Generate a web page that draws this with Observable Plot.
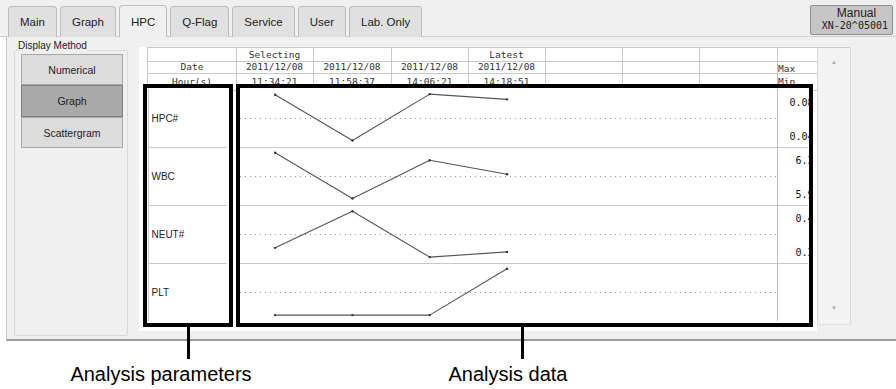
<!DOCTYPE html>
<html><head><meta charset="utf-8">
<script src="https://cdn.jsdelivr.net/npm/d3@7"></script>
<script src="https://cdn.jsdelivr.net/npm/@observablehq/plot@0.6"></script>
<style>
html,body{margin:0;padding:0;background:#fff;}
#root{position:relative;width:896px;height:389px;overflow:hidden;font-family:"Liberation Sans",Arial,sans-serif;color:#222;}
.abs{position:absolute;box-sizing:border-box;}
.mono{font-family:"DejaVu Sans Mono",monospace;}
.cell{position:absolute;box-sizing:border-box;border-right:1px solid #c8c8c8;border-bottom:1px solid #c8c8c8;font-family:"DejaVu Sans Mono",monospace;font-size:9.5px;color:#333;text-align:center;white-space:nowrap;overflow:hidden;}
</style></head>
<body><div id="root"></div>
<script>
// ---------- data ----------
const tabs = ["Main", "Graph", "HPC", "Q-Flag", "Service", "User", "Lab. Only"];
const activeTab = "HPC";
const methods = ["Numerical", "Graph", "Scattergram"];
const activeMethod = "Graph";
const slotStatus = ["Selecting", "", "", "Latest", "", "", ""];
const slotDates = ["2011/12/08", "2011/12/08", "2011/12/08", "2011/12/08", "", "", ""];
const slotHours = ["11:34:21", "11:58:37", "14:06:21", "14:18:51", "", "", ""];
const params = ["HPC#", "WBC", "NEUT#", "PLT"];
// position of each result inside the row's display range (0 = row bottom, 100 = row top)
const hpcValues = [91, 12, 92, 83];
const wbcValues = [91, 12, 78, 54];
const neutValues = [27, 90, 11, 20];
const pltValues = [11, 11, 11, 91];
const maxLabels = ["0.08", "6.3", "0.4", ""];
const minLabels = ["0.04", "5.9", "0.3", ""];
const callouts = ["Analysis parameters", "Analysis data"];

// ---------- layout helpers ----------
const root = document.getElementById("root");
function box(css, html) {
  const d = document.createElement("div");
  d.className = "abs";
  d.style.cssText = css;
  if (html !== undefined) d.innerHTML = html;
  root.appendChild(d);
  return d;
}

// backgrounds
box("left:0;top:0;width:896px;height:37px;background:#f0f0f0;");
box("left:0;top:36px;width:896px;height:1px;background:#cfcfcf;");
box("left:6px;top:37px;width:890px;height:304px;background:#f0f0f0;border-left:1px solid #c8c8c8;border-bottom:2px solid #9a9a9a;");

// tabs
const tabBar = box("left:8px;top:5px;height:32px;display:flex;align-items:flex-end;gap:3px;");
tabs.forEach(t => {
  const on = t === activeTab;
  const d = document.createElement("div");
  d.textContent = t;
  d.style.cssText = `box-sizing:border-box;height:${on ? 32 : 31}px;padding:0 11px;display:flex;align-items:center;font-size:11.5px;color:#222;` +
    `border:1px solid #bcbcbc;border-bottom:none;border-radius:4px 4px 0 0;background:${on ? "#f0f0f0" : "#e0e0e0"};`;
  tabBar.appendChild(d);
});

// Manual button
box("left:810px;top:5px;width:83px;height:30px;background:#c6c6c6;border:1px solid #8e8e8e;border-radius:2px;text-align:right;padding:1px 4px 0 0;line-height:12px;",
  `<div style="font-size:12px;text-align:center;padding-left:14px;">Manual</div><div class="mono" style="font-size:10px;margin-top:1px;">XN-20^05001</div>`);

// Display Method group
box("left:14px;top:50px;width:114px;height:286px;border:1px solid #dadada;border-radius:2px;");
box("left:17px;top:40px;font-size:10px;background:#f0f0f0;padding:0 1px;", "Display Method");
const methodTops = [54, 85, 117];
const methodHeights = [31, 32, 31];
methods.forEach((m, i) => {
  const on = m === activeMethod;
  box(`left:21px;top:${methodTops[i]}px;width:102px;height:${methodHeights[i]}px;display:flex;align-items:center;justify-content:center;font-size:10.5px;` +
    `background:${on ? "#a9a9a9" : "#dcdcdc"};border:1px solid ${on ? "#7f7f7f" : "#a8a8a8"};`, m);
});

// white panel behind the table
box("left:139px;top:47px;width:678px;height:284px;background:#fff;");

// table header
const colEdges = [147, 236, 313, 391, 468, 545, 622, 699, 777, 817, 850];
const rowEdges = [47, 61, 73, 90];
box(`left:${colEdges[0]}px;top:${rowEdges[0]}px;width:${colEdges[10] - colEdges[0]}px;height:1px;background:#c8c8c8;`);
box(`left:${colEdges[0]}px;top:${rowEdges[0]}px;width:1px;height:${rowEdges[3] - rowEdges[0]}px;background:#c8c8c8;`);
const headerRows = [["", ...slotStatus, ""], ["Date", ...slotDates, ""], ["Hour(s)", ...slotHours, ""]];
headerRows.forEach((row, r) => {
  row.forEach((txt, c) => {
    const L = colEdges[c] + (c === 0 ? 1 : 0), R = colEdges[c + 1];
    const T = rowEdges[r] + (r === 0 ? 1 : 0), B = rowEdges[r + 1];
    const d = document.createElement("div");
    d.className = "cell";
    d.style.cssText += `left:${L}px;top:${T}px;width:${R - L + 1}px;height:${B - T + 1}px;line-height:${B - T}px;`;
    d.textContent = txt;
    root.appendChild(d);
  });
});
box("left:778px;top:63px;font-size:9.5px;color:#333;", "<span class='mono'>Max</span>");
box("left:778px;top:76px;font-size:9.5px;color:#333;", "<span class='mono'>Min</span>");

// scrollbar
box("left:817px;top:62px;width:34px;height:263px;background:#f3f3f3;border-left:1px solid #d8d8d8;border-right:1px solid #d8d8d8;border-bottom:1px solid #e0e0e0;");
box("left:817px;top:48px;width:34px;height:14px;background:#f3f3f3;border-left:1px solid #d8d8d8;border-right:1px solid #d8d8d8;");
box("left:831px;top:59px;font-size:6px;color:#aaa;", "▲");
box("left:831px;top:305px;font-size:6px;color:#aaa;", "▼");

// ---------- frames with Plot charts ----------
const font = "'DejaVu Sans Mono', monospace";
const leftFrame = box("left:143px;top:84px;width:90px;height:243px;border:4px solid #000;background:#fff;overflow:hidden;z-index:5;");
const rightFrame = box("left:236px;top:84px;width:577px;height:243px;border:4px solid #000;background:#fff;overflow:hidden;z-index:5;");

const labelPlot = Plot.plot({
  width: 82, height: 234,
  margin: 0,
  x: {domain: [0, 1], range: [1, 80], axis: null},
  y: {domain: [0, 1], axis: null},
  fy: {domain: params, padding: 0, axis: null},
  style: {background: "white", fontFamily: "'Liberation Sans', Arial, sans-serif", overflow: "hidden"},
  marks: [
    Plot.ruleX([0], {stroke: "#c8c8c8"}),
    Plot.ruleY(params.slice(0, 3), {fy: d => d, y: 0, x1: 0, x2: 1, stroke: "#c8c8c8"}),
    Plot.text(params, {fy: d => d, text: d => d, frameAnchor: "left", dx: 4, textAnchor: "start", fontSize: 10, fill: "#222"})
  ]
});
leftFrame.appendChild(labelPlot);

const seriesValues = [hpcValues, wbcValues, neutValues, pltValues];
const points = params.flatMap((p, i) => seriesValues[i].map((v, j) => ({param: p, slot: j, value: v})));

const graphPlot = Plot.plot({
  width: 569, height: 234,
  margin: 0,
  x: {type: "linear", domain: [-0.5, 6.5], range: [-4, 537], axis: null},
  y: {domain: [0, 100], axis: null},
  fy: {domain: params, padding: 0, axis: null},
  style: {background: "white", fontFamily: font, overflow: "hidden"},
  marks: [
    Plot.ruleY(params.slice(0, 3), {fy: d => d, y: 0, x1: -0.45, x2: 6.9, stroke: "#c8c8c8"}),
    Plot.ruleY(params, {fy: d => d, y: 50, x1: -0.45, x2: 6.5, stroke: "#8a8a8a", strokeDasharray: "1,4"}),
    Plot.ruleX([6.5], {stroke: "#c0c0c0"}),
    Plot.line(points, {x: "slot", y: "value", fy: "param", stroke: "#555", strokeWidth: 1.1}),
    Plot.dot(points, {x: "slot", y: "value", fy: "param", r: 1.2, fill: "#333"}),
    Plot.text(params, {fy: d => d, text: (d, i) => maxLabels[i], frameAnchor: "top-right", lineAnchor: "middle", textAnchor: "end", dx: 4, dy: 13, fontSize: 10, fill: "#111"}),
    Plot.text(params, {fy: d => d, text: (d, i) => minLabels[i], frameAnchor: "bottom-right", lineAnchor: "middle", textAnchor: "end", dx: 4, dy: -11, fontSize: 10, fill: "#111"})
  ]
});
rightFrame.appendChild(graphPlot);

// ---------- callouts ----------
const calloutLineX = [187, 521];
const calloutTextCenter = [161, 508];
callouts.forEach((c, i) => {
  box(`left:${calloutLineX[i]}px;top:327px;width:3px;height:32px;background:#000;`);
  box(`left:${calloutTextCenter[i] - 150}px;top:363px;width:300px;text-align:center;font-size:20px;color:#000;white-space:nowrap;`, c);
});
</script>
</body></html>
